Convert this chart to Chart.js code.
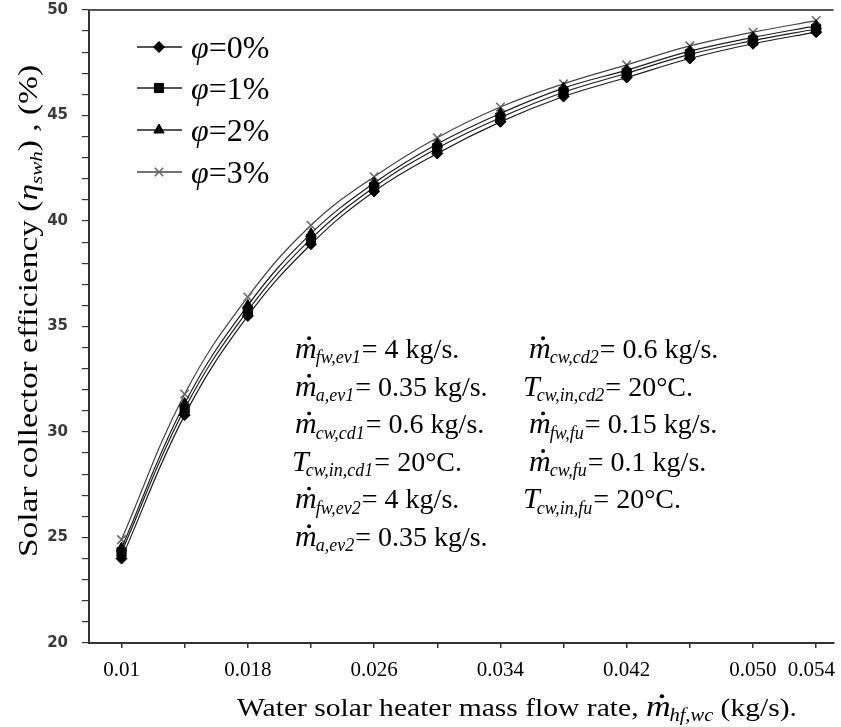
<!DOCTYPE html>
<html><head><meta charset="utf-8">
<script src="https://cdn.jsdelivr.net/npm/chart.js@4/dist/chart.umd.min.js"></script>
<style>html,body{margin:0;padding:0;background:#fff;}#wrap{width:841px;height:727px;}</style>
</head><body><div id="wrap"><canvas id="c" width="841" height="727"></canvas></div>
<script>
// ---------- data ----------
const xValues = [0.010, 0.014, 0.018, 0.022, 0.026, 0.030, 0.034, 0.038, 0.042, 0.046, 0.050, 0.054];
const phi0 = [24.0, 30.8, 35.5, 38.9, 41.4, 43.2, 44.7, 45.9, 46.8, 47.7, 48.4, 48.95];
const phi1 = [24.3, 31.1, 35.75, 39.15, 41.6, 43.45, 44.9, 46.1, 47.0, 47.9, 48.55, 49.1];
const phi2 = [24.5, 31.35, 36.0, 39.4, 41.8, 43.65, 45.1, 46.3, 47.15, 48.05, 48.7, 49.25];
const phi3 = [24.9, 31.8, 36.4, 39.8, 42.1, 43.95, 45.4, 46.5, 47.4, 48.3, 48.95, 49.5];
const seriesLabels = ['=0%', '=1%', '=2%', '=3%'];
const xTickValues = [0.010, 0.014, 0.018, 0.022, 0.026, 0.030, 0.034, 0.038, 0.042, 0.046, 0.050, 0.054];
const xTickLabels = ['0.01', '', '0.018', '', '0.026', '', '0.034', '', '0.042', '', '0.050', '0.054'];
const yMin = 20, yMax = 50, yMinorStep = 1, yLabelStep = 5;
const notesLeft = [
  ['m', 'fw,ev1', '= 4 kg/s.'],
  ['m', 'a,ev1', '= 0.35 kg/s.'],
  ['m', 'cw,cd1', '= 0.6 kg/s.'],
  ['T', 'cw,in,cd1', '= 20°C.'],
  ['m', 'fw,ev2', '= 4 kg/s.'],
  ['m', 'a,ev2', '= 0.35 kg/s.']
];
const notesRight = [
  ['m', 'cw,cd2', '= 0.6 kg/s.'],
  ['T', 'cw,in,cd2', '= 20°C.'],
  ['m', 'fw,fu', '= 0.15 kg/s.'],
  ['m', 'cw,fu', '= 0.1 kg/s.'],
  ['T', 'cw,in,fu', '= 20°C.']
];

// ---------- styles ----------
const SERIF = "'Liberation Serif','Times New Roman',serif";
const styles = [
  {pointStyle: 'rectRot', radius: 5.5, fill: '#000', stroke: '#000', line: '#1e1e1e', bw: 1},
  {pointStyle: 'rect', radius: 6.5, fill: '#000', stroke: '#000', line: '#1e1e1e', bw: 1},
  {pointStyle: 'triangle', radius: 6, fill: '#000', stroke: '#000', line: '#1e1e1e', bw: 1},
  {pointStyle: 'crossRot', radius: 6, fill: '#666', stroke: '#666', line: '#444', bw: 1.5}
];
const seriesData = [phi0, phi1, phi2, phi3];

const datasets = seriesData.map((arr, i) => ({
  label: 'φ' + seriesLabels[i],
  data: xValues.map((x, k) => ({x: x, y: arr[k]})),
  borderColor: styles[i].line,
  borderWidth: 1.2,
  pointStyle: styles[i].pointStyle,
  pointRadius: styles[i].radius,
  pointBackgroundColor: styles[i].fill,
  pointBorderColor: styles[i].stroke,
  pointBorderWidth: styles[i].bw,
  tension: 0.4,
  fill: false
}));

function drawVar(ctx, x, baseline, letter, sub, bigSize, subSize) {
  ctx.font = 'italic ' + bigSize + 'px ' + SERIF;
  ctx.textAlign = 'left';
  ctx.textBaseline = 'alphabetic';
  ctx.fillText(letter, x, baseline);
  const w = ctx.measureText(letter).width;
  if (letter === 'm') {
    ctx.beginPath();
    ctx.arc(x + w * 0.58 + 1.5, baseline - bigSize * 0.66, bigSize * 0.065, 0, Math.PI * 2);
    ctx.fill();
  }
  ctx.font = 'italic ' + subSize + 'px ' + SERIF;
  const sx = x + w - (letter === 'T' ? 3 : 1);
  ctx.fillText(sub, sx, baseline + subSize * 0.3);
  return sx + ctx.measureText(sub).width;
}

const decor = {
  id: 'decor',
  afterDraw(chart) {
    const ctx = chart.ctx;
    const a = chart.chartArea;
    ctx.save();
    // top frame line
    ctx.strokeStyle = '#555';
    ctx.lineWidth = 2;
    ctx.beginPath();
    ctx.moveTo(a.left, a.top);
    ctx.lineTo(a.right, a.top);
    ctx.stroke();

    // x tick labels
    const xs = chart.scales.x;
    ctx.fillStyle = '#000';
    ctx.font = '21px ' + SERIF;
    ctx.textBaseline = 'middle';
    ctx.textAlign = 'center';
    xTickValues.forEach((v, i) => {
      const t = xTickLabels[i];
      if (!t) return;
      let px = xs.getPixelForValue(v);
      const w = ctx.measureText(t).width;
      if (px + w / 2 > chart.width - 6) px = chart.width - 6 - w / 2;
      ctx.fillText(t, px, a.bottom + 27);
    });

    // legend
    const legendY = [47, 88, 130, 172];
    styles.forEach((s, i) => {
      const cy = legendY[i];
      ctx.strokeStyle = s.line;
      ctx.lineWidth = 1.5;
      ctx.beginPath();
      ctx.moveTo(137, cy);
      ctx.lineTo(182, cy);
      ctx.stroke();
      ctx.fillStyle = s.fill;
      ctx.strokeStyle = s.stroke;
      ctx.lineWidth = s.bw;
      Chart.helpers.drawPoint(ctx, {pointStyle: s.pointStyle, radius: s.radius, rotation: 0, borderWidth: s.bw}, 159, cy);
      ctx.fillStyle = '#000';
      ctx.textAlign = 'left';
      ctx.textBaseline = 'alphabetic';
      ctx.font = 'italic 32px ' + SERIF;
      ctx.fillText('φ', 191, cy + 11);
      const pw = ctx.measureText('φ').width;
      ctx.font = '32px ' + SERIF;
      ctx.fillText(seriesLabels[i], 191 + pw, cy + 11);
    });

    // annotation block
    ctx.fillStyle = '#000';
    const rowBase = 358, rowGap = 37.6;
    notesLeft.forEach((n, i) => {
      const x0 = n[0] === 'T' ? 292 : 295;
      const end = drawVar(ctx, x0, rowBase + i * rowGap, n[0], n[1], 30, 18);
      ctx.font = '28px ' + SERIF;
      ctx.fillText(n[2], end + 1, rowBase + i * rowGap);
    });
    notesRight.forEach((n, i) => {
      const x0 = n[0] === 'T' ? 523 : 529;
      const end = drawVar(ctx, x0, rowBase + i * rowGap, n[0], n[1], 30, 18);
      ctx.font = '28px ' + SERIF;
      ctx.fillText(n[2], end + 1, rowBase + i * rowGap);
    });

    // y axis title (stretched along its length)
    ctx.save();
    ctx.translate(28, 311);
    ctx.rotate(-Math.PI / 2);
    const segs = [
      {t: 'Solar collector efficiency (', f: '27px ' + SERIF, dy: 0},
      {t: 'η', f: 'italic 27px ' + SERIF, dy: 0},
      {t: 'swh', f: 'italic 17px ' + SERIF, dy: 5},
      {t: ') , (%)', f: '27px ' + SERIF, dy: 0}
    ];
    let total = 0;
    segs.forEach(s => { ctx.font = s.f; s.w = ctx.measureText(s.t).width; total += s.w; });
    const ySc = 492 / total;
    ctx.scale(ySc, 1);
    let cx = -total / 2;
    segs.forEach(s => { ctx.font = s.f; ctx.fillText(s.t, cx, 9 + s.dy); cx += s.w; });
    ctx.restore();

    // x axis title (stretched along its length)
    ctx.save();
    const p1 = 'Water solar heater mass flow rate, ';
    const p2 = ' (kg/s).';
    ctx.font = '26px ' + SERIF;
    const w1 = ctx.measureText(p1).width;
    const w2 = ctx.measureText(p2).width;
    ctx.font = 'italic 30px ' + SERIF;
    const wm = ctx.measureText('m').width;
    ctx.font = 'italic 18px ' + SERIF;
    const ws = ctx.measureText('hf,wc').width;
    const tot = w1 + wm - 1 + ws + w2;
    const xSc = 560 / tot;
    ctx.translate(517, 716);
    ctx.scale(xSc, 1);
    const tx = -tot / 2;
    ctx.font = '26px ' + SERIF;
    ctx.fillText(p1, tx, 0);
    const e = drawVar(ctx, tx + w1, 0, 'm', 'hf,wc', 30, 18);
    ctx.font = '26px ' + SERIF;
    ctx.fillText(p2, e, 0);
    ctx.restore();
    ctx.restore();
  }
};

new Chart(document.getElementById('c'), {
  type: 'line',
  data: {datasets: datasets},
  options: {
    responsive: false,
    animation: false,
    devicePixelRatio: 1,
    layout: {padding: {left: 0, top: 10, right: 3, bottom: 0}},
    plugins: {legend: {display: false}, tooltip: {enabled: false}},
    scales: {
      x: {
        type: 'linear',
        min: 0.00794,
        max: 0.0551,
        afterBuildTicks: (s) => { s.ticks = xTickValues.map(v => ({value: v})); },
        afterFit: (s) => { s.height = 84; s.paddingLeft = 0; s.paddingRight = 0; },
        ticks: {display: false},
        grid: {display: true, drawOnChartArea: false, drawTicks: true, tickLength: 5, color: '#333', lineWidth: 1.5},
        border: {display: true, color: '#333', width: 2}
      },
      y: {
        type: 'linear',
        min: yMin,
        max: yMax,
        afterBuildTicks: (s) => {
          const t = [];
          for (let v = yMin; v <= yMax; v += yMinorStep) t.push({value: v});
          s.ticks = t;
        },
        afterFit: (s) => { s.width = 89; s.paddingTop = 0; s.paddingBottom = 0; },
        ticks: {
          autoSkip: false,
          padding: 14,
          color: '#3a3a3a',
          font: {family: "'DejaVu Sans', sans-serif", size: 15, weight: 'bold'},
          callback: (v) => (v % yLabelStep === 0 ? String(v) : '')
        },
        grid: {display: true, drawOnChartArea: false, drawTicks: true, tickLength: 7, color: '#333', lineWidth: 1.2},
        border: {display: true, color: '#333', width: 2}
      }
    }
  },
  plugins: [decor]
});
</script>
</body></html>
